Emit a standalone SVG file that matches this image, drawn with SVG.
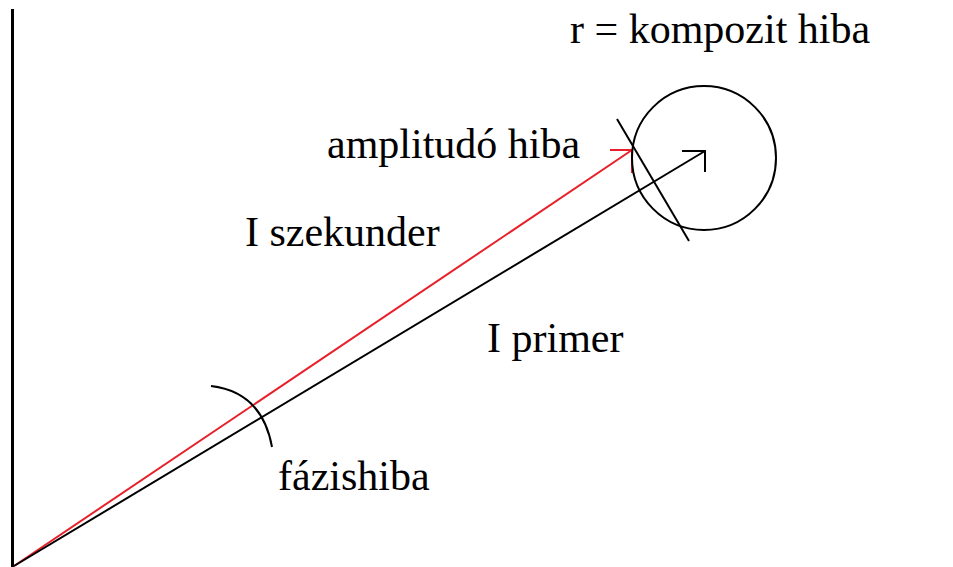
<svg xmlns="http://www.w3.org/2000/svg" width="953" height="567" viewBox="0 0 953 567">
<style>
.t{font-family:"Liberation Serif","Times New Roman",serif;font-size:42px;fill:#000}
.k{stroke:#000;stroke-width:2;fill:none}
.r{stroke:#e8202a;stroke-width:2;fill:none}
</style>
<rect width="953" height="567" fill="#fff"/>
<g id="axis"><line x1="12.5" y1="9" x2="12.5" y2="567" stroke="#000" stroke-width="3"/></g>
<g id="connectors">
<line class="r" x1="14" y1="566" x2="632" y2="150"/>
<polyline class="r" points="610,150 632,150 632,173"/>
<line class="k" x1="14" y1="566" x2="705" y2="151"/>
<polyline class="k" points="682,151 705,151 705,172"/>
<line class="k" x1="617" y1="119" x2="689" y2="241"/>
<path class="k" d="M211,386 Q262,392 272,447"/>
</g>
<g id="circle"><circle class="k" cx="704" cy="158" r="72"/></g>
<g id="labels">
<text class="t" x="570" y="43">r = kompozit hiba</text>
<text class="t" x="327" y="158">amplitudó hiba</text>
<text class="t" x="245" y="246">I szekunder</text>
<text class="t" x="487" y="352">I primer</text>
<text class="t" x="278" y="490">fázishiba</text>
</g>
</svg>
